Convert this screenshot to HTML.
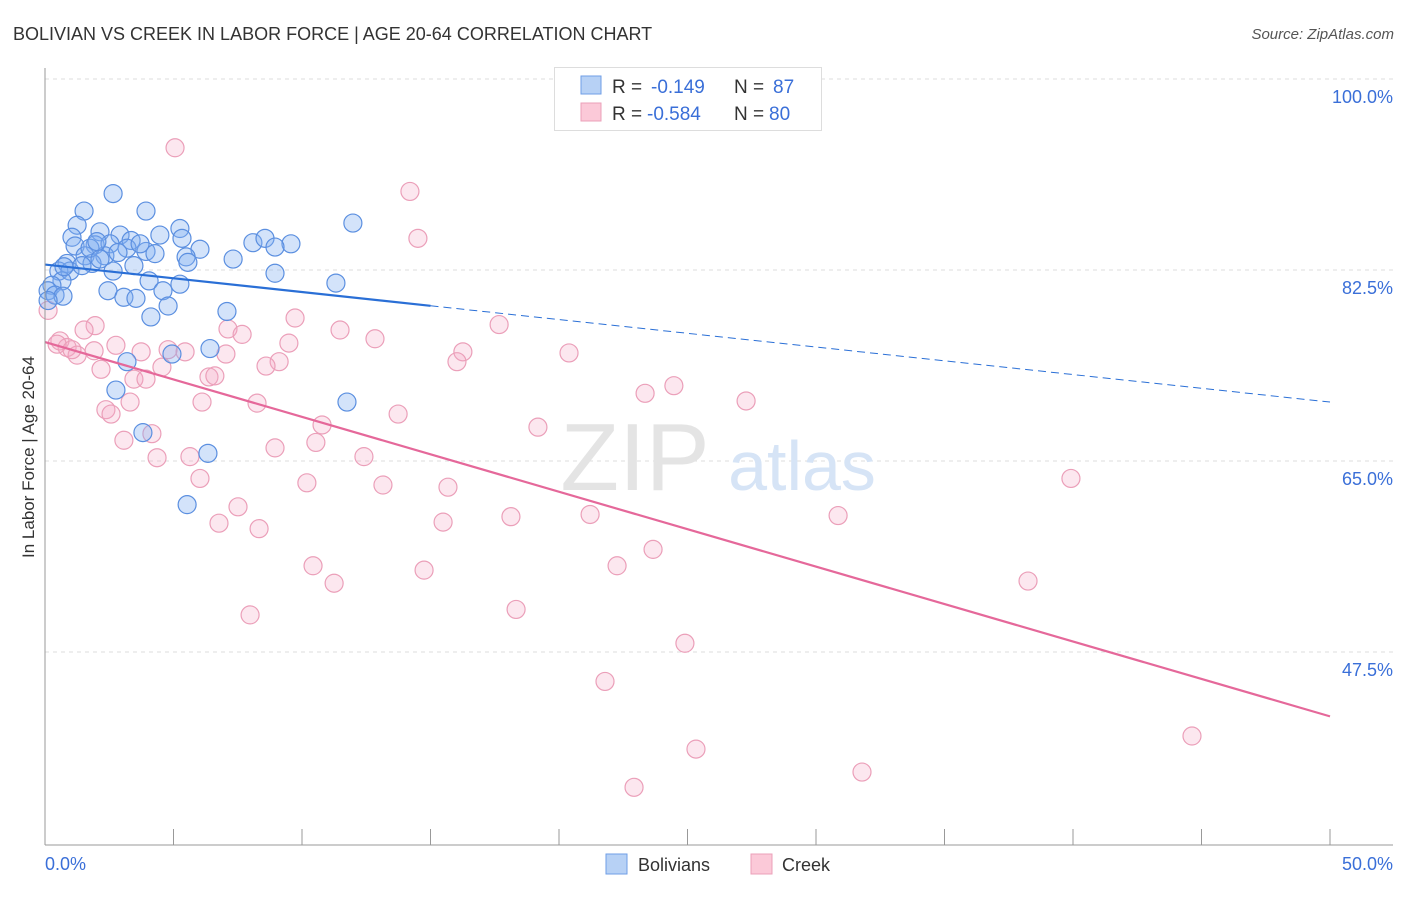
<!DOCTYPE html>
<html><head><meta charset="utf-8">
<style>
body{margin:0;background:#fff;font-family:"Liberation Sans",sans-serif;}
svg text{font-family:"Liberation Sans",sans-serif;}
</style></head>
<body>
<svg id="chart" width="1406" height="892" viewBox="0 0 1406 892" xmlns="http://www.w3.org/2000/svg">
<text x="13" y="40" font-size="18" fill="#333">BOLIVIAN VS CREEK IN LABOR FORCE | AGE 20-64 CORRELATION CHART</text>
<text x="1394" y="39" font-size="15" fill="#555" font-style="italic" text-anchor="end">Source: ZipAtlas.com</text>
<g id="grid"></g>
<g>
<text x="635" y="490" font-size="96" fill="#e4e4e4" font-family="Liberation Serif" text-anchor="middle">ZIP</text>
<text x="802" y="490" font-size="70" fill="#d6e4f6" text-anchor="middle">atlas</text>
</g>
<g id="points"></g>
<g id="lines"></g>
<line x1="45" y1="68" x2="45" y2="845" stroke="#999" stroke-width="1"/>
<line x1="45" y1="845" x2="1393" y2="845" stroke="#999" stroke-width="1"/>
<g id="axes"></g>
<text transform="translate(34,457) rotate(-90)" font-size="17" fill="#333" text-anchor="middle">In Labor Force | Age 20-64</text>
<g>
<rect x="554.5" y="67.5" width="267" height="63" fill="#fff" stroke="#ddd"/>
<rect x="581" y="76" width="20" height="18" fill="#b7d1f5" stroke="#6f9ee6"/>
<rect x="581" y="103" width="20" height="18" fill="#fbc9d8" stroke="#eba0b9"/>
<text x="612" y="93" font-size="19" fill="#333">R = </text><text x="651" y="93" font-size="19" fill="#3a6fd8">-0.149</text>
<text x="734" y="93" font-size="19" fill="#333">N = </text><text x="773" y="93" font-size="19" fill="#3a6fd8">87</text>
<text x="612" y="120" font-size="19" fill="#333">R = </text><text x="647" y="120" font-size="19" fill="#3a6fd8">-0.584</text>
<text x="734" y="120" font-size="19" fill="#333">N = </text><text x="769" y="120" font-size="19" fill="#3a6fd8">80</text>
</g>
<g>
<rect x="606" y="854" width="21" height="20" fill="#b7d1f5" stroke="#6f9ee6"/>
<text x="638" y="871" font-size="18" fill="#333">Bolivians</text>
<rect x="751" y="854" width="21" height="20" fill="#fbc9d8" stroke="#eba0b9"/>
<text x="782" y="871" font-size="18" fill="#333">Creek</text>
</g>
</svg>
<script>
const yTicks=[100,82.5,65,47.5];
const yTickLabels=["100.0%","82.5%","65.0%","47.5%"];
const xTickVals=[0,5,10,15,20,25,30,35,40,45,50];
const blueX=[2.65,1.52,3.93,11.98,1.25,5.25,1.05,2.14,2.92,4.47,5.33,3.35,1.17,1.95,2.53,8.09,8.56,9.57,8.95,6.03,3.93,3.19,1.56,2.33,2.84,4.28,5.49,7.32,0.86,1.83,3.46,5.56,0.54,0.97,2.65,8.95,4.05,5.25,11.32,0.66,0.27,0.12,2.45,4.59,0.39,0.70,3.07,3.54,0.12,4.79,7.08,4.12,6.42,4.94,3.19,2.76,11.75,3.81,6.34,5.53,1.75,2.14,2.02,3.70,0.74,1.44];
const blueY=[89.5,87.9,87.9,86.8,86.6,86.3,85.5,86.0,85.7,85.7,85.4,85.2,84.7,84.8,84.9,85.0,85.4,84.9,84.6,84.4,84.2,84.5,83.8,83.8,84.1,84.0,83.7,83.5,83.1,83.1,82.9,83.2,82.4,82.4,82.4,82.2,81.5,81.2,81.3,81.5,81.1,80.6,80.6,80.6,80.2,80.1,80.0,79.9,79.7,79.2,78.7,78.2,75.3,74.8,74.1,71.5,70.4,67.6,65.7,61.0,84.5,83.5,85.1,84.9,82.8,82.9];
const pinkX=[5.06,14.2,14.51,0.12,1.95,1.52,7.12,7.67,11.48,9.73,17.67,12.84,0.58,0.86,1.25,2.76,3.74,4.79,5.45,9.49,7.04,20.39,16.26,16.03,9.11,8.6,4.55,2.18,6.38,6.61,3.46,3.93,23.35,24.47,27.28,6.11,8.25,2.37,2.57,13.74,10.78,19.18,3.07,4.16,8.95,10.54,4.36,5.64,12.41,6.03,10.19,13.15,15.68,39.92,7.51,6.77,8.33,15.49,18.13,21.21,30.86,23.66,10.43,22.26,14.75,11.25,38.25,18.33,7.98,24.9,21.79,25.33,44.63,31.79,22.92,0.47,1.05,3.31,1.91];
const pinkY=[93.7,89.7,85.4,78.8,77.4,77.0,77.1,76.6,77.0,78.1,77.5,76.2,76.0,75.4,74.7,75.6,75.0,75.2,75.0,75.8,74.8,74.9,75.0,74.1,74.1,73.7,73.6,73.4,72.7,72.8,72.5,72.5,71.2,71.9,70.5,70.4,70.3,69.7,69.3,69.3,68.3,68.1,66.9,67.5,66.2,66.7,65.3,65.4,65.4,63.4,63.0,62.8,62.6,63.4,60.8,59.3,58.8,59.4,59.9,60.1,60.0,56.9,55.4,55.4,55.0,53.8,54.0,51.4,50.9,48.3,44.8,38.6,39.8,36.5,35.1,75.7,75.2,70.4,75.1];
const blueTrend=[83.0,70.4];
const pinkTrend=[75.9,41.6];
const blueSolidEnd=15;

const NS="http://www.w3.org/2000/svg";
const xS=v=>45+v*25.7;
const yS=v=>79+(100-v)*10.914;
function mk(tag,attrs,parent){const e=document.createElementNS(NS,tag);for(const k in attrs)e.setAttribute(k,attrs[k]);parent.appendChild(e);return e;}
const grid=document.getElementById('grid'),axes=document.getElementById('axes'),pts=document.getElementById('points'),lines=document.getElementById('lines');
yTicks.forEach((t,i)=>{
  const l=mk('line',{x1:45,x2:1393,y1:yS(t),y2:yS(t),stroke:'#ddd','stroke-dasharray':'4,4'},grid);
  
  
  const tx=mk('text',{x:1393,y:yS(t)+24,'font-size':18,fill:'#3a6fd8','text-anchor':'end'},axes);
  tx.textContent=yTickLabels[i];
  
  
});
xTickVals.forEach(t=>{
  const l=mk('line',{x1:xS(t),x2:xS(t),y1:829,y2:845,stroke:'#999'},axes);
  
  
});
const x0=mk('text',{x:45,y:870,'font-size':18,fill:'#3a6fd8'},axes);x0.textContent='0.0%';


const x1=mk('text',{x:1393,y:870,'font-size':18,fill:'#3a6fd8','text-anchor':'end'},axes);x1.textContent='50.0%';


pinkX.forEach((x,i)=>{
  const c=mk('circle',{cx:xS(x),cy:yS(pinkY[i]),r:9,fill:'rgba(246,170,196,0.28)',stroke:'#eb9fb9','stroke-width':1.2},pts);
  
  
});
blueX.forEach((x,i)=>{
  const c=mk('circle',{cx:xS(x),cy:yS(blueY[i]),r:9,fill:'rgba(130,175,240,0.35)',stroke:'#5b8fe0','stroke-width':1.2},pts);
  
  
});
const bAt=x=>blueTrend[0]+(blueTrend[1]-blueTrend[0])*x/50;
const b1=mk('line',{x1:xS(0),y1:yS(bAt(0)),x2:xS(blueSolidEnd),y2:yS(bAt(blueSolidEnd)),stroke:'#2a6fd6','stroke-width':2.2},lines);


const b2=mk('line',{x1:xS(blueSolidEnd),y1:yS(bAt(blueSolidEnd)),x2:xS(50),y2:yS(bAt(50)),stroke:'#2a6fd6','stroke-width':1,'stroke-dasharray':'8,5'},lines);


const p1=mk('line',{x1:xS(0),y1:yS(pinkTrend[0]),x2:xS(50),y2:yS(pinkTrend[1]),stroke:'#e5689a','stroke-width':2.2},lines);


</script>
</body></html>
